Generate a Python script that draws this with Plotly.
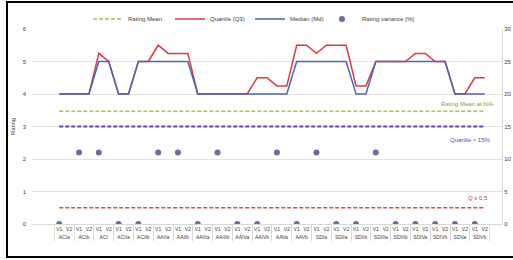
import plotly.graph_objects as go

groups = ["ACIa", "ACIb", "ACI", "ACIIa", "ACIIb", "AAIIa", "AAIIb", "AAIIIa", "AAIIIb",
          "AAIVa", "AAIVb", "AAVa", "AAVb", "SDIa", "SDIIa", "SDIIb", "SDIIIa", "SDIIIb",
          "SDIVa", "SDIVb", "SDVa", "SDVb"]
versions = ["V1", "V2"]

quartile_q3 = [4, 4, 4, 4, 5.25, 5.0, 4, 4, 5, 5, 5.5, 5.25, 5.25, 5.25,
               4, 4, 4, 4, 4, 4, 4.5, 4.5, 4.25, 4.25, 5.5, 5.5, 5.25, 5.5, 5.5, 5.5,
               4.25, 4.25, 5, 5, 5, 5, 5.25, 5.25, 5, 5, 4, 4, 4.5, 4.5]
median_md = [4, 4, 4, 4, 5, 5, 4, 4, 5, 5, 5, 5, 5, 5,
             4, 4, 4, 4, 4, 4, 4, 4, 4, 4, 5, 5, 5, 5, 5, 5,
             4, 4, 5, 5, 5, 5, 5, 5, 5, 5, 4, 4, 4, 4]
rating_variance = [0, 11, 11, 0, 0, 11, 11, 0, 11, 0, 0, 11, 0, 11, 0, 0, 11, 0, 0, 0, 0, 0]

rating_mean = 3.47
quartile_limit = 3.0
q_half = 0.5

x_outer = [g for g in groups for v in versions]
x_inner = [v for g in groups for v in versions]
x_multi = [x_outer, x_inner]
n = len(x_outer)

FW, FH = 513, 260
L, R, T, B = 32, 11, 29, 36
W = FW - L - R
H = FH - T - B
def px(xp):
    return (xp - L) / W
def py(yp):
    return (FH - B - yp) / H

fig = go.Figure()
fig.add_trace(go.Scatter(x=x_multi, y=[rating_mean] * n, mode="lines", name="Rating Mean",
                         legend="legend",
                         line=dict(color="#B9BE45", width=1.6, dash="4px,2px")))
fig.add_trace(go.Scatter(x=x_multi, y=quartile_q3, mode="lines", name="Quartile (Q3)",
                         legend="legend2",
                         line=dict(color="#DC3A3E", width=1.5)))
fig.add_trace(go.Scatter(x=x_multi, y=median_md, mode="lines", name="Median (Md)",
                         legend="legend3",
                         line=dict(color="#5064B4", width=1.5)))
fig.add_trace(go.Scatter(x=x_multi, y=[quartile_limit] * n, mode="lines", showlegend=False,
                         line=dict(color="#6A3FB5", width=1.8, dash="4px,2px")))
fig.add_trace(go.Scatter(x=x_multi, y=[q_half] * n, mode="lines", showlegend=False,
                         line=dict(color="#C8504F", width=1.5, dash="4px,2px")))
fig.add_trace(go.Scatter(x=[groups, ["V1"] * len(groups)], y=rating_variance, mode="markers",
                         name="Rating variance [%]", yaxis="y2", legend="legend4",
                         marker=dict(color="#6B6BA6", size=6)))

fig.add_annotation(text="Rating Mean at N/A", xref="paper", yref="y", x=0.985, y=3.69,
                   xanchor="right", yanchor="middle", showarrow=False,
                   font=dict(size=6, color="#8E9A2E"))
fig.add_annotation(text="Quartile < 15%", xref="paper", yref="y", x=0.98, y=2.58,
                   xanchor="right", yanchor="middle", showarrow=False,
                   font=dict(size=6, color="#5B3FC8"))
fig.add_annotation(text="Q x 0.5", xref="paper", yref="y", x=0.975, y=0.8,
                   xanchor="right", yanchor="middle", showarrow=False,
                   font=dict(size=6, color="#B83A3A"))

fig.add_shape(type="rect", xref="paper", yref="paper",
              x0=px(7), x1=px(516), y0=py(257), y1=py(2),
              line=dict(color="black", width=2), fillcolor="rgba(0,0,0,0)")

def leg(xpix):
    return dict(orientation="h", xref="container", yref="container",
                x=xpix / FW, xanchor="left", y=1 - 19 / FH, yanchor="middle",
                font=dict(size=6, color="#404040"), bgcolor="rgba(0,0,0,0)",
                itemwidth=30)

fig.update_layout(
    width=FW, height=FH,
    margin=dict(l=L, r=R, t=T, b=B, autoexpand=False),
    paper_bgcolor="white", plot_bgcolor="white",
    font=dict(family="Liberation Sans, Arial, sans-serif", size=6, color="#404040"),
    showlegend=True,
    legend=leg(88), legend2=leg(170), legend3=leg(250), legend4=leg(322),
    xaxis=dict(type="multicategory", showgrid=False, showline=True, linecolor="#D9D9D9",
               linewidth=1, ticks="", tickangle=0, tickfont=dict(size=5, color="#404040"),
               dividercolor="#D9D9D9", dividerwidth=1, showdividers=True),
    yaxis=dict(range=[0, 6], dtick=1, showgrid=True, gridcolor="#E2E2E2", gridwidth=1,
               zeroline=False, showline=False, ticks="", tickfont=dict(size=6),
               ticklabelstandoff=5,
               title=dict(text="Rating", font=dict(size=6), standoff=6)),
    yaxis2=dict(range=[0, 30], dtick=5, overlaying="y", side="right", showgrid=False,
                zeroline=False, showline=True, linecolor="#D9D9D9", ticks="",
                tickfont=dict(size=6)),
)

fig.write_html("out.html", config={"displayModeBar": False},
               post_script="document.body.style.margin='0';")
